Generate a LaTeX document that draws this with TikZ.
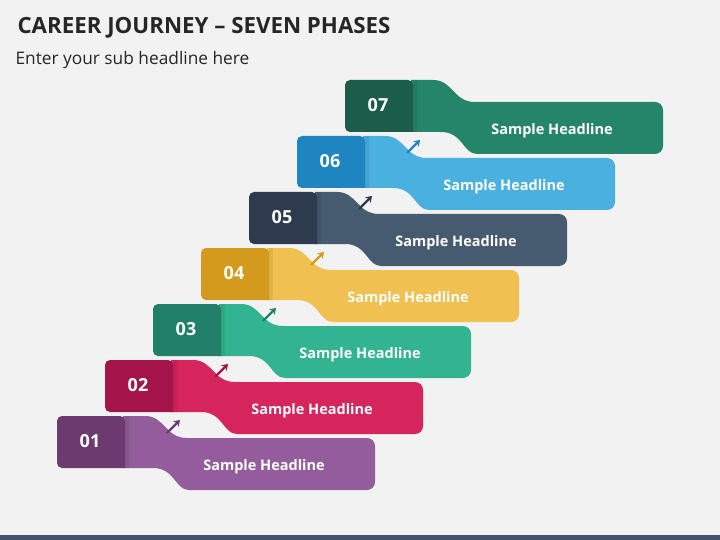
\documentclass[tikz,border=0pt]{standalone}
\usepackage{fontspec}
\setmainfont{Open Sans}
\usetikzlibrary{arrows.meta, positioning, calc}
\definecolor{bgray}{RGB}{242, 242, 242}
\definecolor{barblue}{RGB}{68, 84, 106}
\definecolor{tabA}{RGB}{108, 58, 110}   \definecolor{bodyA}{RGB}{147, 92, 154}
\definecolor{tabB}{RGB}{163, 21, 74}    \definecolor{bodyB}{RGB}{214, 36, 92}
\definecolor{tabC}{RGB}{35, 128, 104}   \definecolor{bodyC}{RGB}{51, 180, 144}
\definecolor{tabD}{RGB}{212, 154, 30}   \definecolor{bodyD}{RGB}{240, 192, 80}
\definecolor{tabE}{RGB}{46, 58, 78}     \definecolor{bodyE}{RGB}{70, 90, 112}
\definecolor{tabF}{RGB}{30, 133, 192}   \definecolor{bodyF}{RGB}{74, 176, 224}
\definecolor{tabG}{RGB}{27, 92, 74}     \definecolor{bodyG}{RGB}{37, 133, 106}
\tikzset{
  numtext/.style={text=white, font=\fontsize{18}{21}\selectfont\bfseries},
  headtext/.style={text=white, font=\fontsize{14.5}{17}\selectfont\bfseries},
  steparrow/.style={line width=2.2pt, -{Stealth[length=6pt, width=8pt]}}
}
\begin{document}
\begin{tikzpicture}[x=1pt, y=-1pt]
  \fill[bgray] (0,0) rectangle (720,540);
  \fill[barblue] (0,535) rectangle (720,540);
  % title
  \node[anchor=west, font=\fontsize{22.3}{26}\selectfont\bfseries, text=black!85] (title) at (14,28) {CAREER JOURNEY – SEVEN PHASES};
  \node[anchor=west, font=\fontsize{17.3}{20}\selectfont, text=black!85] (sub) at (12,60) {Enter your sub headline here};
  % steps
  \foreach \k/\tc/\bc/\n in {0/tabA/bodyA/01, 1/tabB/bodyB/02, 2/tabC/bodyC/03, 3/tabD/bodyD/04, 4/tabE/bodyE/05, 5/tabF/bodyF/06, 6/tabG/bodyG/07}{
    \pgfmathsetmacro{\xa}{57+48*\k}
    \pgfmathsetmacro{\ya}{416-56*\k}
    \fill[\bc] (\xa+66,\ya) -- (\xa+88,\ya)
      .. controls (\xa+108,\ya) and (\xa+108,\ya+22) .. (\xa+130,\ya+22)
      [rounded corners=8pt] -- (\xa+318,\ya+22) -- (\xa+318,\ya+74) -- (\xa+140,\ya+74) [sharp corners]
      .. controls (\xa+118,\ya+74) and (\xa+118,\ya+52) .. (\xa+96,\ya+52)
      -- (\xa+66,\ya+52) -- cycle;
    \fill[black, opacity=0.07] (\xa+68,\ya) rectangle (\xa+72,\ya+52);
    \fill[\tc, rounded corners=5pt] (\xa,\ya) -- (\xa+68,\ya) [sharp corners] -- (\xa+68,\ya+52) [rounded corners=5pt] -- (\xa,\ya+52) -- cycle;
    \node[numtext] (num\n) at (\xa+33,\ya+25) {\n};
    \node[headtext] (head\n) at (\xa+207,\ya+51) {Sample Headline};
  }
  % arrows
  \foreach \k/\tc in {0/tabA, 1/tabB, 2/tabC, 3/tabD, 4/tabE, 5/tabF}{
    \pgfmathsetmacro{\xa}{57+48*\k}
    \pgfmathsetmacro{\ya}{416-56*\k}
    \coordinate (from\k) at (\xa+110,\ya+17);
    \coordinate (to\k) at (\xa+123,\ya+4);
    \draw[steparrow, \tc] (from\k) -- (to\k);
  }
\end{tikzpicture}
\end{document}
